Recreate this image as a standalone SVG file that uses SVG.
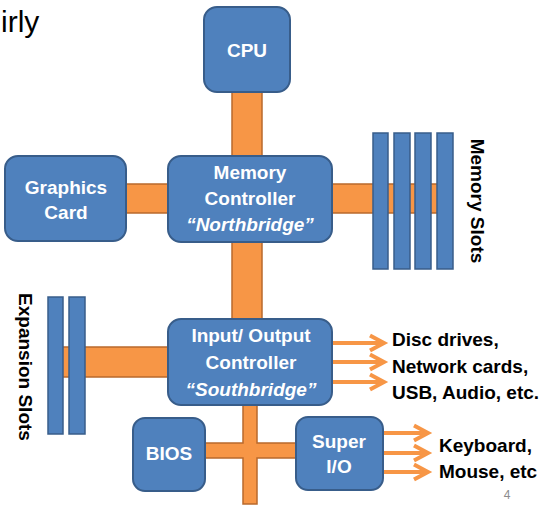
<svg xmlns="http://www.w3.org/2000/svg" width="555" height="509" viewBox="0 0 555 509">
<style>
.box{fill:#4F81BD;stroke:#385D8A;stroke-width:2}
.slot{fill:#4F81BD;stroke:#385D8A;stroke-width:1.5}
.bus{fill:#F79646;stroke:#B9692C;stroke-width:1.5}
.lbl{font-family:"Liberation Sans",Arial,sans-serif;font-weight:bold;font-size:19px;fill:#FFFFFF;text-anchor:middle}
.it{font-style:italic}
.side{font-family:"Liberation Sans",Arial,sans-serif;font-weight:bold;font-size:19px;fill:#000000}
.arr{stroke:#F79646;stroke-width:4;fill:none;marker-end:url(#chev)}
</style>
<defs>
<marker id="chev" viewBox="-20 -12 24 24" refX="0" refY="0" markerWidth="24" markerHeight="24" markerUnits="userSpaceOnUse" orient="auto" overflow="visible">
<path d="M-14,-7.5 L0,0 L-14,7.5" fill="none" stroke="#F79646" stroke-width="4"/>
</marker>
</defs>
<rect width="555" height="509" fill="#FFFFFF"/>
<text x="1" y="32" font-family="'Liberation Sans',Arial,sans-serif" font-size="30" fill="#000000">irly</text>
<g id="connectors">
<rect class="bus" x="232" y="90" width="30" height="68"/>
<rect class="bus" x="232" y="240" width="30" height="81"/>
<rect class="bus" x="124" y="184" width="46" height="29"/>
<rect class="bus" x="330" y="184" width="114" height="29"/>
<rect class="bus" x="60" y="347" width="110" height="30"/>
<path class="bus" d="M243,404 L257,404 L257,443 L297,443 L297,458 L257,458 L257,504 L243,504 L243,458 L204,458 L204,443 L243,443 Z"/>
<line class="arr" x1="332" y1="343" x2="384" y2="343"/>
<line class="arr" x1="332" y1="362" x2="384" y2="362"/>
<line class="arr" x1="332" y1="382" x2="384" y2="382"/>
<line class="arr" x1="383" y1="433" x2="428" y2="433"/>
<line class="arr" x1="383" y1="453" x2="428" y2="453"/>
<line class="arr" x1="383" y1="472" x2="428" y2="472"/>
</g>
<g id="cpu">
<rect class="box" x="204" y="7" width="86" height="85" rx="13"/>
<text class="lbl" x="247" y="57">CPU</text>
</g>
<g id="graphics">
<rect class="box" x="5" y="156" width="121" height="85" rx="13"/>
<text class="lbl" x="66" y="194">Graphics</text>
<text class="lbl" x="66" y="219">Card</text>
</g>
<g id="northbridge">
<rect class="box" x="168" y="156" width="164" height="86" rx="13"/>
<text class="lbl" x="250" y="179">Memory</text>
<text class="lbl" x="250" y="205">Controller</text>
<text class="lbl it" x="250" y="231">“Northbridge”</text>
</g>
<g id="memory-slots">
<rect class="slot" x="373" y="133" width="15" height="136"/>
<rect class="slot" x="394" y="133" width="16" height="136"/>
<rect class="slot" x="415" y="133" width="16" height="136"/>
<rect class="slot" x="437" y="133" width="16" height="136"/>
<text class="side" transform="translate(471,201) rotate(90)" text-anchor="middle">Memory Slots</text>
</g>
<g id="expansion-slots">
<rect class="slot" x="48" y="297" width="15" height="137"/>
<rect class="slot" x="69" y="297" width="16" height="137"/>
<text class="side" transform="translate(19,367) rotate(90)" text-anchor="middle">Expansion Slots</text>
</g>
<g id="southbridge">
<rect class="box" x="168" y="319" width="164" height="86" rx="13"/>
<text class="lbl" x="251" y="342">Input/ Output</text>
<text class="lbl" x="251" y="369">Controller</text>
<text class="lbl it" x="251" y="396">“Southbridge”</text>
</g>
<g id="bios">
<rect class="box" x="133" y="418" width="72" height="73" rx="12"/>
<text class="lbl" x="169" y="460">BIOS</text>
</g>
<g id="superio">
<rect class="box" x="296" y="417" width="87" height="73" rx="12"/>
<text class="lbl" x="339" y="448">Super</text>
<text class="lbl" x="339" y="473">I/O</text>
</g>
<g id="io-devices">
<text class="side" x="392" y="346">Disc drives,</text>
<text class="side" x="392" y="373">Network cards,</text>
<text class="side" x="392" y="399">USB, Audio, etc.</text>
</g>
<g id="superio-devices">
<text class="side" x="439" y="452">Keyboard,</text>
<text class="side" x="439" y="478">Mouse, etc</text>
</g>
<text x="507" y="499" font-family="'Liberation Sans',Arial,sans-serif" font-size="12" fill="#8C8C8C" text-anchor="middle">4</text>
</svg>
